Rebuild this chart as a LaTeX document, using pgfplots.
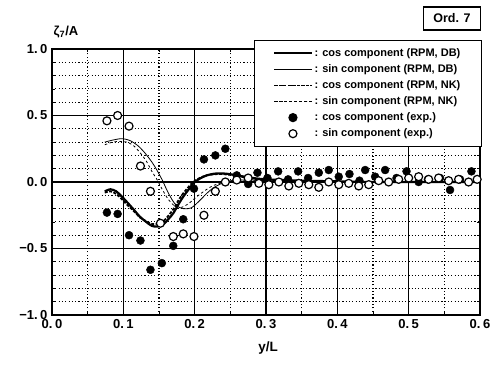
\documentclass[border=0pt]{standalone}
\usepackage{pgfplots}
\pgfplotsset{compat=1.18}
\usepackage{fontspec}
\setmainfont{Liberation Sans}
\begin{document}
\begin{tikzpicture}
\path[use as bounding box] (-52pt,-50pt) rectangle (438pt,315pt);
\begin{axis}[
  at={(0pt,0pt)}, anchor=south west,
  scale only axis, width=428pt, height=266pt,
  xmin=0, xmax=0.6, ymin=-1, ymax=1,
  xtick={0,0.1,0.2,0.3,0.4,0.5,0.6},
  xticklabels={0.\kern2.5pt0,0.\kern2.5pt1,0.\kern2.5pt2,0.\kern2.5pt3,0.\kern2.5pt4,0.\kern2.5pt5,0.\kern2.5pt6},
  ytick={-1,-0.5,0,0.5,1},
  yticklabels={−1.\kern2.5pt0,−0.\kern2.5pt5,0.\kern2.5pt0,0.\kern2.5pt5,1.\kern2.5pt0},
  minor xtick={0.05,0.15,0.25,0.35,0.45,0.55},
  minor ytick={-0.9,-0.8,-0.7,-0.6,-0.4,-0.3,-0.2,-0.1,0.1,0.2,0.3,0.4,0.6,0.7,0.8,0.9},
  grid=both,
  major grid style={black, line width=1.1pt},
  minor grid style={black, line width=1.1pt, dash pattern=on 1.1pt off 2.2pt},
  axis line style={line width=1.6pt},
  major tick length=3pt, minor tick length=3pt,
  tick style={black, line width=0.8pt},
  tick align=inside,
  ticklabel style={font=\fontsize{13}{15}\selectfont\bfseries},
  xticklabel style={yshift=-1pt},
  yticklabel style={xshift=-1pt},
  legend cell align=left,
  legend style={at={(1,1)}, anchor=north east, xshift=2pt, yshift=9pt,
    draw=black, line width=1.2pt, fill=white,
    font=\fontsize{11}{12.5}\selectfont\bfseries,
    inner xsep=19pt, inner ysep=6pt, row sep=2.6pt},
  legend image code/.code={\draw[mark repeat=2,mark phase=2,#1] plot coordinates {(0cm,0cm) (0.65cm,0cm) (1.3cm,0cm)};},
]
% cos component (RPM, DB)
\addplot[black, line width=2.2pt, smooth] coordinates {
(0.074,-0.07) (0.082,-0.055) (0.090,-0.07) (0.098,-0.11) (0.105,-0.15) (0.115,-0.21)
(0.123,-0.26) (0.132,-0.30) (0.140,-0.33) (0.148,-0.335) (0.156,-0.32) (0.163,-0.28)
(0.170,-0.235) (0.177,-0.17) (0.184,-0.11) (0.191,-0.06) (0.198,-0.01) (0.207,0.025)
(0.217,0.05) (0.227,0.062) (0.236,0.065) (0.248,0.06) (0.259,0.05) (0.270,0.04)
(0.282,0.03) (0.30,0.02) (0.35,0.01) (0.40,0.005) (0.45,0.0) (0.50,0.0) (0.55,0.0) (0.60,0.0)};
\addlegendentry{: cos component (RPM, DB)}
% sin component (RPM, DB)
\addplot[black, line width=0.8pt, smooth] coordinates {
(0.074,0.30) (0.085,0.315) (0.095,0.325) (0.102,0.323) (0.110,0.31) (0.120,0.275)
(0.130,0.22) (0.140,0.15) (0.147,0.09) (0.155,0.01) (0.161,-0.06) (0.168,-0.13)
(0.175,-0.18) (0.184,-0.20) (0.195,-0.195) (0.207,-0.14) (0.217,-0.085) (0.226,-0.045)
(0.236,-0.015) (0.246,0.005) (0.260,0.015) (0.280,0.015) (0.30,0.01) (0.35,0.005)
(0.40,0.0) (0.50,0.0) (0.60,0.0)};
\addlegendentry{: sin component (RPM, DB)}
% cos component (RPM, NK)
\addplot[black, line width=1.8pt, dash pattern=on 3pt off 1.5pt, smooth] coordinates {
(0.074,-0.08) (0.082,-0.07) (0.090,-0.09) (0.098,-0.13) (0.105,-0.17) (0.115,-0.22)
(0.123,-0.265) (0.132,-0.295) (0.140,-0.315) (0.148,-0.315) (0.156,-0.295) (0.163,-0.255)
(0.170,-0.205) (0.177,-0.14) (0.184,-0.085) (0.191,-0.04) (0.198,0.0) (0.207,0.03)
(0.217,0.05) (0.227,0.058) (0.236,0.06) (0.248,0.055) (0.259,0.045) (0.270,0.035)
(0.282,0.025) (0.30,0.015) (0.35,0.005) (0.40,0.0) (0.50,0.0) (0.60,0.0)};
\addlegendentry{: cos component (RPM, NK)}
% sin component (RPM, NK)
\addplot[black, line width=0.8pt, dash pattern=on 2.5pt off 2.5pt, smooth] coordinates {
(0.074,0.28) (0.085,0.30) (0.095,0.305) (0.105,0.30) (0.115,0.27) (0.125,0.21)
(0.133,0.15) (0.140,0.08) (0.147,0.02) (0.155,-0.06) (0.163,-0.13) (0.172,-0.18)
(0.182,-0.19) (0.192,-0.16) (0.203,-0.11) (0.213,-0.07) (0.223,-0.035) (0.235,-0.01)
(0.25,0.005) (0.27,0.01) (0.30,0.008) (0.35,0.003) (0.40,0.0) (0.50,0.0) (0.60,0.0)};
\addlegendentry{: sin component (RPM, NK)}
% cos component (exp.)
\addplot[only marks, mark=*, mark size=4pt, mark options={fill=black, draw=black}] coordinates {
(0.077,-0.23) (0.092,-0.24) (0.108,-0.40) (0.124,-0.44) (0.138,-0.66) (0.154,-0.61)
(0.170,-0.48) (0.184,-0.28) (0.199,-0.05) (0.213,0.17) (0.229,0.20) (0.243,0.25)
(0.259,0.05) (0.275,-0.015) (0.288,0.07) (0.302,0.03) (0.317,0.08) (0.331,0.02)
(0.345,0.08) (0.359,0.03) (0.374,0.07) (0.388,0.09) (0.402,0.04) (0.417,0.06)
(0.431,0.01) (0.439,0.09) (0.453,0.04) (0.467,0.09) (0.483,0.03) (0.497,0.08)
(0.514,0.0) (0.527,0.02) (0.544,0.03) (0.558,-0.06) (0.572,0.02) (0.588,0.08)};
\addlegendentry{: cos component (exp.)}
% sin component (exp.)
\addplot[only marks, mark=*, mark size=4pt, mark options={fill=white, draw=black, line width=1.2pt}] coordinates {
(0.077,0.46) (0.092,0.50) (0.108,0.42) (0.124,0.12) (0.138,-0.07) (0.152,-0.31)
(0.170,-0.41) (0.184,-0.39) (0.199,-0.41) (0.213,-0.25) (0.229,-0.07) (0.243,0.0)
(0.259,0.015) (0.275,0.03) (0.290,-0.01) (0.304,-0.02) (0.318,0.0) (0.332,-0.03)
(0.346,-0.01) (0.360,-0.02) (0.374,-0.04) (0.388,0.0) (0.402,-0.02) (0.416,-0.01)
(0.430,-0.03) (0.444,-0.02) (0.458,0.01) (0.472,0.0) (0.486,0.02) (0.500,0.03)
(0.514,0.04) (0.528,0.02) (0.542,0.03) (0.556,0.01) (0.570,0.02) (0.584,0.0) (0.596,0.02)};
\addlegendentry{: sin component (exp.)}
\end{axis}
\node[draw, line width=1.5pt, font=\fontsize{12.5}{14}\selectfont\bfseries, minimum width=57pt, minimum height=23pt, inner sep=2pt] at (400pt,296.5pt) {Ord. 7};
\node[font=\fontsize{13}{15}\selectfont\bfseries] at (14pt,283pt) {ζ\textsubscript{7}/A};
\node[font=\fontsize{13.5}{15}\selectfont\bfseries] at (216pt,-33pt) {y/L};
\end{tikzpicture}
\end{document}
